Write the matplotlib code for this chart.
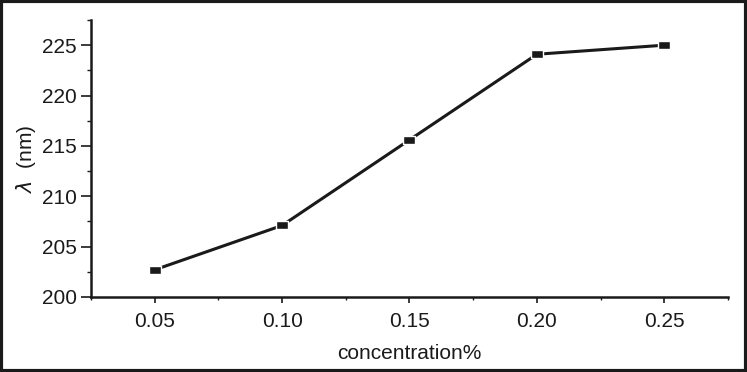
import numpy as np
import matplotlib.pyplot as plt
from matplotlib.patches import Rectangle

# data
concentration = [0.05, 0.10, 0.15, 0.20, 0.25]
wavelength = [202.7, 207.1, 215.6, 224.1, 225.0]
x_ticks = [0.05, 0.10, 0.15, 0.20, 0.25]
x_tick_labels = ["0.05", "0.10", "0.15", "0.20", "0.25"]
x_minor = [0.025, 0.075, 0.125, 0.175, 0.225, 0.275]
y_ticks = [200, 205, 210, 215, 220, 225]
y_minor = [202.5, 207.5, 212.5, 217.5, 222.5, 227.5]

plt.rcParams['font.family'] = ['Liberation Sans', 'DejaVu Sans']

fig = plt.figure(figsize=(7.47, 3.72), dpi=100)
ax = fig.add_axes([91 / 747, 1 - 297 / 372, (728 - 91) / 747, (297 - 20) / 372])

# rectangular markers, wider than tall
rect = [(-1.6, -1), (1.6, -1), (1.6, 1), (-1.6, 1), (-1.6, -1)]
ax.plot(concentration, wavelength, color='#1a1a1a', lw=2.2,
        marker=rect, markersize=8.5, markerfacecolor='#1a1a1a',
        markeredgecolor='white', markeredgewidth=1.0)

ax.set_xlim(0.025, 0.275)
ax.set_ylim(200, 227.5)
ax.set_xticks(x_ticks)
ax.set_xticklabels(x_tick_labels)
ax.set_yticks(y_ticks)
ax.xaxis.set_minor_locator(plt.FixedLocator(x_minor))
ax.yaxis.set_minor_locator(plt.FixedLocator(y_minor))

for side in ['top', 'right']:
    ax.spines[side].set_visible(False)
for side in ['left', 'bottom']:
    ax.spines[side].set_linewidth(1.8)
    ax.spines[side].set_color('#1a1a1a')

ax.tick_params(which='both', direction='out', colors='#1a1a1a', labelsize=15)
ax.tick_params(axis='y', which='major', length=7, width=1.2, pad=3)
ax.tick_params(axis='y', which='minor', length=3, width=1.0)
ax.tick_params(axis='x', which='major', length=4, width=1.2, pad=7)
ax.tick_params(axis='x', which='minor', length=2.5, width=1.0)

ax.set_xlabel("concentration%", fontsize=15, color='#1a1a1a', labelpad=9)
ax.set_ylabel(r"$\lambda$  (nm)", fontsize=15, color='#1a1a1a', labelpad=3)

# black frame round the whole picture
fig.patches.append(Rectangle((0.002, 0.004), 0.996, 0.992, transform=fig.transFigure,
                             fill=False, edgecolor='#1a1a1a', linewidth=3))

fig.savefig("out.png", dpi=100)
